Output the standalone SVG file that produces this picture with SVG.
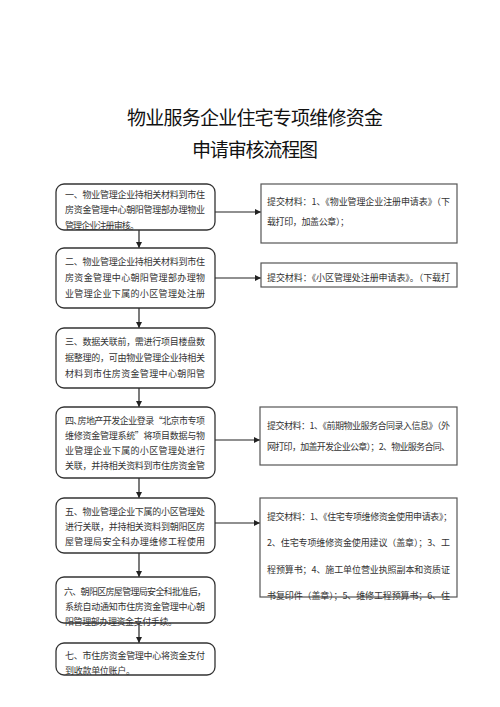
<svg xmlns="http://www.w3.org/2000/svg" width="500" height="707" viewBox="0 0 500 707">
<defs>
<marker id="ah" markerWidth="6" markerHeight="6" refX="6" refY="3" orient="auto" markerUnits="userSpaceOnUse">
<path d="M0,0 L6,3 L0,6 z" fill="#222"/>
</marker>
<style>
.t{font-family:"Noto Sans CJK SC","Noto Sans",sans-serif;fill:#111;font-size:19px}
.b{font-family:"Noto Sans CJK SC","Noto Sans",sans-serif;fill:#333;font-size:9px}
.rb{fill:#fff;stroke:#333;stroke-width:1.3}
.sb{fill:#fff;stroke:#555;stroke-width:1.2}
.c line{stroke:#222;stroke-width:1.2;marker-end:url(#ah)}
</style>
</defs>
<rect width="500" height="707" fill="#fff"/>
<g id="title">
<text class="t" x="127" y="125" textLength="256" lengthAdjust="spacing">物业服务企业住宅专项维修资金</text>
<text class="t" x="192" y="157" textLength="126" lengthAdjust="spacing">申请审核流程图</text>
</g>
<g class="c" id="connectors">
<line x1="139" y1="230" x2="139" y2="248"/>
<line x1="139" y1="308" x2="139" y2="328"/>
<line x1="139" y1="388" x2="139" y2="407"/>
<line x1="139" y1="478" x2="139" y2="498"/>
<line x1="139" y1="553" x2="139" y2="577"/>
<line x1="139" y1="623" x2="139" y2="643"/>
<line x1="215" y1="212" x2="261" y2="212"/>
<line x1="215" y1="278" x2="261" y2="278"/>
<line x1="215" y1="440" x2="260" y2="440"/>
<line x1="215" y1="523" x2="260" y2="523"/>
</g>
<g id="n1">
<rect class="rb" x="56" y="184" width="159" height="46" rx="8"/>
<text class="b" x="65" y="198" textLength="140" lengthAdjust="spacing">一、物业管理企业持相关材料到市住</text>
<text class="b" x="65" y="213" textLength="140" lengthAdjust="spacing">房资金管理中心朝阳管理部办理物业</text>
<text class="b" x="65" y="229" textLength="74" lengthAdjust="spacing">管理企业注册审核。</text>
</g>
<g id="n2">
<rect class="rb" x="56" y="248" width="159" height="60" rx="8"/>
<text class="b" x="65" y="265" textLength="140" lengthAdjust="spacing">二、物业管理企业持相关材料到市住</text>
<text class="b" x="65" y="281" textLength="140" lengthAdjust="spacing">房资金管理中心朝阳管理部办理物</text>
<text class="b" x="65" y="297" textLength="140" lengthAdjust="spacing">业管理企业下属的小区管理处注册</text>
</g>
<g id="n3">
<rect class="rb" x="56" y="328" width="159" height="60" rx="8"/>
<text class="b" x="65" y="345" textLength="140" lengthAdjust="spacing">三、数据关联前，需进行项目楼盘数</text>
<text class="b" x="65" y="361" textLength="140" lengthAdjust="spacing">据整理的，可由物业管理企业持相关</text>
<text class="b" x="65" y="377" textLength="140" lengthAdjust="spacing">材料到市住房资金管理中心朝阳管</text>
</g>
<g id="n4">
<rect class="rb" x="56" y="407" width="159" height="71" rx="8"/>
<text class="b" x="65" y="424" textLength="140" lengthAdjust="spacing">四､房地产开发企业登录“北京市专项</text>
<text class="b" x="65" y="439" textLength="140" lengthAdjust="spacing">维修资金管理系统”将项目数据与物</text>
<text class="b" x="65" y="454" textLength="140" lengthAdjust="spacing">业管理企业下属的小区管理处进行</text>
<text class="b" x="65" y="469" textLength="140" lengthAdjust="spacing">关联，并持相关资料到市住房资金管</text>
</g>
<g id="n5">
<rect class="rb" x="56" y="498" width="159" height="55" rx="8"/>
<text class="b" x="65" y="515" textLength="140" lengthAdjust="spacing">五、物业管理企业下属的小区管理处</text>
<text class="b" x="65" y="530" textLength="140" lengthAdjust="spacing">进行关联，并持相关资料到朝阳区房</text>
<text class="b" x="65" y="545" textLength="140" lengthAdjust="spacing">屋管理局安全科办理维修工程使用</text>
</g>
<g id="n6">
<rect class="rb" x="56" y="577" width="159" height="46" rx="8"/>
<text class="b" x="64" y="595" textLength="142" lengthAdjust="spacing">六、朝阳区房屋管理局安全科批准后，</text>
<text class="b" x="65" y="610" textLength="140" lengthAdjust="spacing">系统自动通知市住房资金管理中心朝</text>
<text class="b" x="65" y="625" textLength="112" lengthAdjust="spacing">阳管理部办理资金支付手续。</text>
</g>
<g id="n7">
<rect class="rb" x="56" y="643" width="159" height="32" rx="8"/>
<text class="b" x="65" y="659" textLength="140" lengthAdjust="spacing">七、市住房资金管理中心将资金支付</text>
<text class="b" x="65" y="674" textLength="70" lengthAdjust="spacing">到收款单位账户。</text>
</g>
<g id="r1">
<rect class="sb" x="261" y="184" width="196" height="59"/>
<text class="b" x="267" y="205" textLength="183" lengthAdjust="spacing">提交材料：1、《物业管理企业注册申请表》（下</text>
<text class="b" x="267" y="225" textLength="82" lengthAdjust="spacing">载打印，加盖公章）；</text>
</g>
<g id="r2">
<rect class="sb" x="261" y="263" width="196" height="24"/>
<text class="b" x="267" y="281" textLength="183" lengthAdjust="spacing">提交材料：《小区管理处注册申请表》。（下载打</text>
</g>
<g id="r4">
<rect class="sb" x="260" y="407" width="197" height="58"/>
<text class="b" x="267" y="429" textLength="183" lengthAdjust="spacing">提交材料：1、《前期物业服务合同录入信息》（外</text>
<text class="b" x="267" y="450" textLength="183" lengthAdjust="spacing">网打印，加盖开发企业公章）；2、物业服务合同、</text>
</g>
<g id="r5">
<rect class="sb" x="260" y="498" width="197" height="99"/>
<text class="b" x="267" y="520" textLength="185" lengthAdjust="spacing">提交材料：1、《住宅专项维修资金使用申请表》；</text>
<text class="b" x="267" y="546" textLength="183" lengthAdjust="spacing">2、住宅专项维修资金使用建议（盖章）；3、工</text>
<text class="b" x="267" y="573" textLength="183" lengthAdjust="spacing">程预算书；4、施工单位营业执照副本和资质证</text>
<text class="b" x="267" y="599" textLength="183" lengthAdjust="spacing">书复印件（盖章）；5、维修工程预算书；6、住</text>
</g>
</svg>
